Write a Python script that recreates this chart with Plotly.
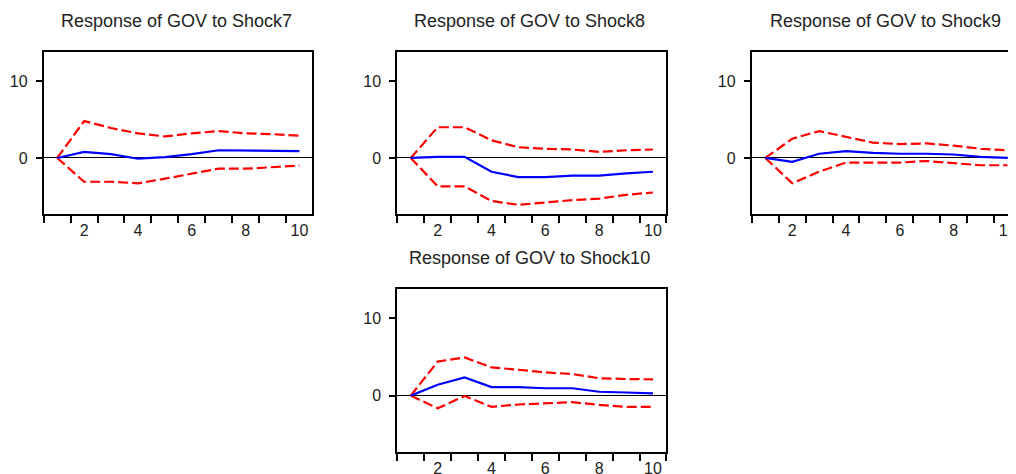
import plotly.graph_objects as go

# horizon periods
periods = [1, 2, 3, 4, 5, 6, 7, 8, 9, 10]

# response of GOV to each shock: point estimate and +/- 2 s.e. bands
shock7_resp = [0, 0.8, 0.5, -0.1, 0.1, 0.5, 1.0, 0.95, 0.95, 0.9]
shock7_upper = [0, 4.8, 3.9, 3.2, 2.8, 3.2, 3.5, 3.2, 3.1, 2.9]
shock7_lower = [0, -3.1, -3.1, -3.3, -2.7, -2.0, -1.4, -1.4, -1.2, -1.0]

shock8_resp = [0, 0.15, 0.15, -1.8, -2.5, -2.5, -2.3, -2.3, -2.0, -1.8]
shock8_upper = [0, 4.0, 4.0, 2.3, 1.4, 1.2, 1.1, 0.8, 1.0, 1.1]
shock8_lower = [0, -3.7, -3.7, -5.6, -6.1, -5.8, -5.5, -5.3, -4.8, -4.5]

shock9_resp = [0, -0.5, 0.55, 0.9, 0.65, 0.55, 0.55, 0.45, 0.15, 0.0]
shock9_upper = [0, 2.5, 3.5, 2.7, 2.0, 1.8, 1.9, 1.6, 1.2, 1.0]
shock9_lower = [0, -3.3, -1.8, -0.6, -0.6, -0.6, -0.4, -0.65, -0.95, -0.95]

shock10_resp = [0, 1.4, 2.35, 1.1, 1.1, 0.95, 0.95, 0.5, 0.4, 0.3]
shock10_upper = [0, 4.4, 4.95, 3.65, 3.35, 3.0, 2.8, 2.25, 2.15, 2.1]
shock10_lower = [0, -1.65, -0.05, -1.45, -1.15, -1.0, -0.85, -1.2, -1.45, -1.45]

titles = ["Response of GOV to Shock7", "Response of GOV to Shock8",
          "Response of GOV to Shock9", "Response of GOV to Shock10"]
x_labels = [2, 4, 6, 8, 10]
y_ticks = [0, 10]

W, H = 1016, 474
OFF = 8  # the page body adds an 8px margin, so shift everything back
FONT = "Liberation Sans, Arial, sans-serif"

# panel boxes in screen pixels: left, right, top, bottom (3rd panel runs off the right edge)
panels = [
    (44, 314, 52, 214),
    (400, 671, 52, 214),
    (757, 1016, 52, 214),
    (400, 671, 289, 452),
]
series = [
    (shock7_resp, shock7_upper, shock7_lower),
    (shock8_resp, shock8_upper, shock8_lower),
    (shock9_resp, shock9_upper, shock9_lower),
    (shock10_resp, shock10_upper, shock10_lower),
]
title_pos = [(178, 21), (533, 21), (892, 21), (533, 258)]

px_per_unit = (671 - 400) / 10.0

fig = go.Figure()
layout = dict(width=W, height=H, margin=dict(l=0, r=0, t=0, b=0),
              paper_bgcolor="white", plot_bgcolor="white",
              showlegend=False, font=dict(family=FONT, size=16, color="#222"),
              annotations=[])

for i, ((l, r, t, b), (resp, up, lo)) in enumerate(zip(panels, series)):
    n = "" if i == 0 else str(i + 1)
    xa, ya = "x" + n, "y" + n
    for vals, col, dash in [(up, "#ff0000", "10px,4px"), (lo, "#ff0000", "10px,4px"),
                            (resp, "#0000ff", "solid")]:
        fig.add_trace(go.Scatter(x=periods, y=vals, mode="lines", xaxis=xa, yaxis=ya,
                                 line=dict(color=col, width=2.2, dash=dash)))
    x_hi = 0.5 + (r - l) / px_per_unit
    l, r, t, b = l - OFF, r - OFF, t - OFF, b - OFF
    layout["xaxis" + n] = dict(
        domain=[l / W, r / W], range=[0.5, x_hi], anchor=ya,
        tickmode="array", tickvals=x_labels, ticks="", ticklen=0,
        ticklabelstandoff=1,
        showgrid=False, zeroline=False, showline=True, mirror=True,
        linecolor="black", linewidth=2, tickfont=dict(size=16),
        minor=dict(tickmode="array", tickvals=[k + 0.5 for k in range(11)],
                   ticks="outside", ticklen=7, tickwidth=2, tickcolor="black",
                   showgrid=False),
    )
    layout["yaxis" + n] = dict(
        domain=[(H - b) / H, (H - t) / H], range=[-7.3, 13.8], anchor=xa,
        tickmode="array", tickvals=y_ticks, ticks="outside", ticklen=6,
        tickwidth=2, tickcolor="black", showgrid=False, ticklabelstandoff=5,
        zeroline=True, zerolinecolor="black", zerolinewidth=1,
        showline=True, mirror=(i != 2), linecolor="black", linewidth=2,
        tickfont=dict(size=16),
    )
    tx, ty = title_pos[i]
    layout["annotations"].append(dict(
        text=titles[i], xref="paper", yref="paper", x=(tx - OFF) / W, y=1 - (ty - OFF) / H,
        xanchor="center", yanchor="middle", showarrow=False,
        font=dict(size=18, color="#222", family=FONT)))

fig.update_layout(**layout)
fig.write_html("out.html")
